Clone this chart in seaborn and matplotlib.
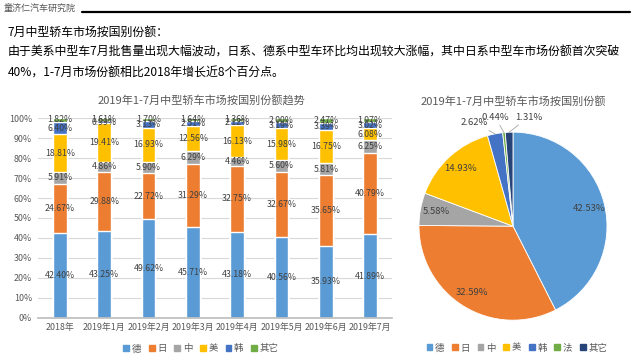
import numpy as np
import matplotlib
matplotlib.use("Agg")
import matplotlib.pyplot as plt
from matplotlib.patches import Patch
import seaborn as sns

# estilo
sns.set_theme(style="white")
plt.rcParams['font.family'] = ['Noto Sans CJK SC', 'DejaVu Sans']

# dados - barras empilhadas
periods = ["2018年", "2019年1月", "2019年2月", "2019年3月", "2019年4月",
           "2019年5月", "2019年6月", "2019年7月"]
bar_series = ["德", "日", "中", "美", "韩", "其它"]
de = [42.40, 43.25, 49.62, 45.71, 43.18, 40.56, 35.93, 41.89]
ri = [24.67, 29.88, 22.72, 31.29, 32.75, 32.67, 35.65, 40.79]
zhong = [5.91, 4.86, 5.90, 6.29, 4.46, 5.60, 5.81, 6.25]
mei = [18.81, 19.41, 16.93, 12.56, 16.13, 15.98, 16.75, 6.08]
han = [6.40, 0.99, 3.13, 2.51, 2.12, 3.19, 3.39, 3.02]
qita = [1.82, 1.61, 1.70, 1.64, 1.36, 2.00, 2.47, 1.97]

# dados - pizza
pie_labels = ["德", "日", "中", "美", "韩", "法", "其它"]
pie_values = [42.53, 32.59, 5.58, 14.93, 2.62, 0.44, 1.31]

bar_colors = ["#5B9BD5", "#ED7D31", "#A5A5A5", "#FFC000", "#4472C4", "#70AD47"]
pie_colors = ["#5B9BD5", "#ED7D31", "#A5A5A5", "#FFC000", "#4472C4", "#70AD47", "#264478"]
txt_gray = "#595959"
lbl_gray = "#404040"

fig = plt.figure(figsize=(6.4, 3.6), dpi=100)
fig.patch.set_facecolor("white")

# cabecalho
fig.text(0.005, 0.976, "童济仁汽车研究院", fontsize=6.5, style="italic",
         color="#555555", va="center", ha="left")
fig.add_artist(plt.Line2D([0.128, 0.985], [0.967, 0.967], color="black", lw=1.6))
fig.text(0.012, 0.911, "7月中型轿车市场按国别份额：", fontsize=8.6, va="center", color="black")
fig.text(0.012, 0.855, "由于美系中型车7月批售量出现大幅波动，日系、德系中型车环比均出现较大涨幅，其中日系中型车市场份额首次突破",
         fontsize=8.6, va="center", color="black")
fig.text(0.012, 0.797, "40%，1-7月市场份额相比2018年增长近8个百分点。", fontsize=8.6,
         va="center", color="black")

# grafico de barras empilhadas
ax = fig.add_axes([0.059, 0.117, 0.554, 0.555])
series = [de, ri, zhong, mei, han, qita]
cum = np.cumsum(np.array(series), axis=0)
for k in range(len(series) - 1, -1, -1):
    sns.barplot(x=periods, y=cum[k], color=bar_colors[k], width=0.31,
                saturation=1, ax=ax, zorder=2)
for k, vals in enumerate(series):
    for i, v in enumerate(vals):
        ax.text(i, cum[k][i] - v / 2, f"{v:.2f}%", ha="center", va="center",
                fontsize=6.3, color=lbl_gray, zorder=3)
ax.set_ylim(0, 100)
ax.set_xlim(-0.5, len(periods) - 0.5)
ax.set_yticks(np.arange(0, 101, 10))
ax.set_yticklabels([f"{t}%" for t in range(0, 101, 10)])
ax.yaxis.grid(True, color="#D9D9D9", lw=0.8, zorder=0)
ax.set_axisbelow(True)
for s in ["top", "right", "left"]:
    ax.spines[s].set_visible(False)
ax.spines["bottom"].set_color("#BFBFBF")
ax.tick_params(axis="both", labelsize=6.4, colors=txt_gray, length=0, pad=4)
ax.set_xlabel("")
ax.set_ylabel("")
fig.text(0.314, 0.722, "2019年1-7月中型轿车市场按国别份额趋势", fontsize=8,
         color=txt_gray, ha="center", va="center")
handles = [Patch(color=c, label=l) for c, l in zip(bar_colors, bar_series)]
fig.legend(handles=handles, loc="center", bbox_to_anchor=(0.314, 0.031), ncol=6,
           frameon=False, fontsize=6.8, handlelength=0.6, handleheight=0.6,
           handletextpad=0.3, columnspacing=0.8, labelcolor=txt_gray)

# grafico de pizza
pax = fig.add_axes([0.6453, 0.094, 0.3125, 0.5556])
wedges, _ = pax.pie(pie_values, colors=pie_colors, startangle=90, counterclock=False,
                    radius=0.94, wedgeprops=dict(edgecolor="white", linewidth=0.6))
pax.set_xlim(-1, 1)
pax.set_ylim(-1, 1)
pax.set_aspect("equal")
pax.axis("off")
small_angle = {4: 110, 5: 99, 6: 82}
for i, w in enumerate(wedges):
    mid = np.deg2rad((w.theta1 + w.theta2) / 2)
    txt = f"{pie_values[i]:.2f}%"
    if i in small_angle:
        a = np.deg2rad(small_angle[i])
        tx, ty = 1.12 * np.cos(a), 1.1 * np.sin(a)
        ex, ey = 0.94 * np.cos(mid), 0.94 * np.sin(mid)
        pax.annotate(txt, xy=(ex, ey), xytext=(tx, ty), fontsize=6.8, color=lbl_gray,
                     ha="center", va="center",
                     arrowprops=dict(arrowstyle="-", color="#A6A6A6", lw=0.6,
                                     shrinkA=9, shrinkB=0))
    else:
        pax.text(0.78 * np.cos(mid), 0.78 * np.sin(mid), txt, ha="center", va="center",
                 fontsize=6.8, color=lbl_gray)
fig.text(0.802, 0.717, "2019年1-7月中型轿车市场按国别份额", fontsize=8,
         color=txt_gray, ha="center", va="center")
phandles = [Patch(color=c, label=l) for c, l in zip(pie_colors, pie_labels)]
fig.legend(handles=phandles, loc="center", bbox_to_anchor=(0.808, 0.033), ncol=7,
           frameon=False, fontsize=6.8, handlelength=0.6, handleheight=0.6,
           handletextpad=0.3, columnspacing=0.8, labelcolor=txt_gray)

fig.savefig("out.png", dpi=100)
